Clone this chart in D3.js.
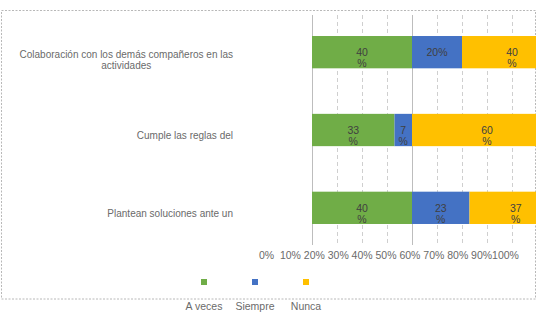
<!DOCTYPE html>
<html>
<head>
<meta charset="utf-8">
<script src="https://cdn.jsdelivr.net/npm/d3@7"></script>
<style>
  html, body { margin: 0; padding: 0; background: #fff; }
  svg { display: block; font-family: "Liberation Sans", Arial, sans-serif; }
</style>
</head>
<body>
<svg id="chart" width="537" height="325"></svg>
<script>
// ---- data ----
const categories = [
  "Colaboración con los demás compañeros en las\nactividades",
  "Cumple las reglas del",
  "Plantean soluciones ante un"
];
const seriesNames = ["A veces", "Siempre", "Nunca"];
const aVeces  = [40, 33, 40];
const siempre = [20, 7, 23];
const nunca   = [40, 60, 37];
const aVecesLabels  = ["40\n%", "33\n%", "40\n%"];
const siempreLabels = ["20%", "7\n%", "23\n%"];
const nuncaLabels   = ["40\n%", "60\n%", "37\n%"];
const tickValues = [0, 10, 20, 30, 40, 50, 60, 70, 80, 90, 100];
const tickLabels = ["0%", "10%", "20%", "30%", "40%", "50%", "60%", "70%", "80%", "90%", "100%"];
const colors = ["#70AD47", "#4472C4", "#FFC000"];

// ---- build ----
const rows = categories.map((c, i) => ({
  cat: c,
  "A veces": aVeces[i], "Siempre": siempre[i], "Nunca": nunca[i],
  labels: { "A veces": aVecesLabels[i], "Siempre": siempreLabels[i], "Nunca": nuncaLabels[i] }
}));
const stacked = d3.stack().keys(seriesNames)(rows);

const svg = d3.select("#chart");
const x = d3.scaleLinear().domain([0, 100]).range([312, 562]);
const y = d3.scaleBand().domain(categories).range([15, 245]).paddingInner(0.585).paddingOuter(0.27);
const color = d3.scaleOrdinal().domain(seriesNames).range(colors);
const tickX = d3.scaleLinear().domain([0, 100]).range([266, 505]);

svg.append("defs").append("clipPath").attr("id", "clip")
  .append("rect").attr("x", 0).attr("y", 0).attr("width", 536).attr("height", 325);

// outer border
svg.append("rect")
  .attr("x", 1.5).attr("y", 10.5).attr("width", 534).attr("height", 288.5)
  .attr("fill", "none").attr("stroke", "#b8b8b8").attr("stroke-dasharray", "2,1.5");

const plot = svg.append("g").attr("clip-path", "url(#clip)");

// gridlines
plot.selectAll("line.grid").data(tickValues).join("line")
  .attr("class", "grid")
  .attr("x1", d => Math.round(x(d)) + 0.5).attr("x2", d => Math.round(x(d)) + 0.5)
  .attr("y1", 15).attr("y2", 245)
  .attr("stroke", d => (d === 0 || d === 40) ? "#bdbdbd" : "#cfcfcf")
  .attr("stroke-dasharray", d => (d === 0 || d === 40) ? null : "4,3");

// bars
const layers = plot.selectAll("g.layer").data(stacked).join("g")
  .attr("class", "layer").attr("fill", d => color(d.key));
layers.selectAll("rect").data(d => d.map(p => ({ p, key: d.key }))).join("rect")
  .attr("x", d => x(d.p[0]))
  .attr("y", d => y(d.p.data.cat))
  .attr("width", d => x(d.p[1]) - x(d.p[0]))
  .attr("height", y.bandwidth());

// value labels
layers.each(function(layer) {
  const g = d3.select(this);
  layer.forEach(p => {
    const lines = p.data.labels[layer.key].split("\n");
    const cx = (x(p[0]) + x(p[1])) / 2;
    const cy = y(p.data.cat) + y.bandwidth() / 2;
    const t = g.append("text")
      .attr("text-anchor", "middle")
      .attr("fill", "#404040")
      .attr("font-size", 10.5)
      .attr("x", cx);
    lines.forEach((ln, i) => {
      t.append("tspan").attr("x", cx).attr("y", cy + 4 + i * 11).text(ln);
    });
  });
});

// category labels
const catFont = 10;
categories.forEach(c => {
  const lines = c.split("\n");
  const cy = y(c) + y.bandwidth() / 2;
  const t = svg.append("text")
    .attr("fill", "#6a6a6a").attr("font-size", catFont)
    .attr("text-anchor", "middle");
  const tmp = svg.append("text").attr("font-size", catFont).text(lines[0]);
  const w = tmp.node().getComputedTextLength();
  tmp.remove();
  const cx = 233 - w / 2;
  const startY = lines.length > 1 ? cy + 6 : cy + 9;
  lines.forEach((ln, i) => {
    t.append("tspan").attr("x", cx).attr("y", startY + i * 10.5).text(ln);
  });
});

// tick labels (axis)
const axis = d3.axisBottom(tickX).tickValues(tickValues)
  .tickFormat((d, i) => tickLabels[i]).tickSize(0).tickPadding(0);
const ag = svg.append("g").attr("transform", "translate(0,252)").call(axis);
ag.select(".domain").remove();
ag.selectAll("text").attr("fill", "#6a6a6a").attr("font-size", 10.5)
  .attr("font-family", "Liberation Sans, Arial, sans-serif");

// legend
const legend = svg.append("g");
const legendX = d3.scalePoint().domain(seriesNames).range([204, 306]);
seriesNames.forEach(s => {
  legend.append("rect")
    .attr("x", legendX(s) - 3).attr("y", 279).attr("width", 6).attr("height", 6)
    .attr("fill", color(s));
  legend.append("text")
    .attr("x", legendX(s)).attr("y", 309.5)
    .attr("text-anchor", "middle").attr("fill", "#6a6a6a").attr("font-size", 10.5)
    .text(s);
});
</script>
</body>
</html>
